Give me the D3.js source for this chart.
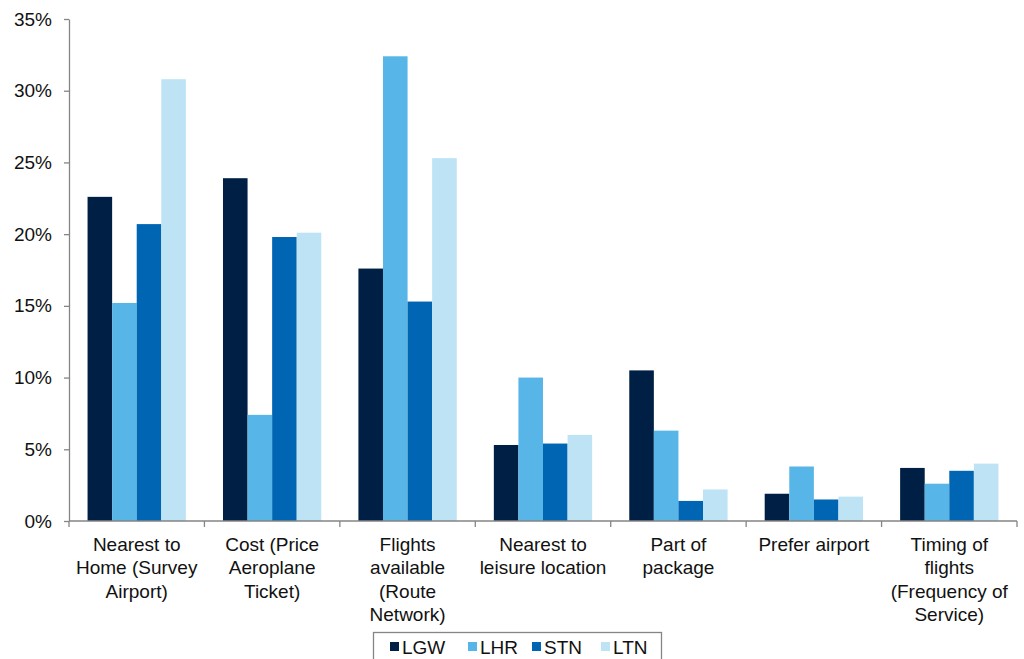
<!DOCTYPE html>
<html>
<head>
<meta charset="utf-8">
<script src="https://cdn.jsdelivr.net/npm/d3@7"></script>
<style>
  html, body { margin: 0; padding: 0; background: #fff; }
  svg { display: block; font-family: "Liberation Sans", Arial, sans-serif; }
</style>
</head>
<body>
<svg id="chart" width="1024" height="659"></svg>
<script>
// Reasons for choosing an airport, share of respondents by airport
const categories = [
  ["Nearest to", "Home (Survey", "Airport)"],
  ["Cost (Price", "Aeroplane", "Ticket)"],
  ["Flights", "available", "(Route", "Network)"],
  ["Nearest to", "leisure location"],
  ["Part of", "package"],
  ["Prefer airport"],
  ["Timing of", "flights", "(Frequency of", "Service)"]
];
const seriesNames = ["LGW", "LHR", "STN", "LTN"];
const lgw = [22.6, 23.9, 17.6, 5.3, 10.5, 1.9, 3.7];
const lhr = [15.2, 7.4, 32.4, 10.0, 6.3, 3.8, 2.6];
const stn = [20.7, 19.8, 15.3, 5.4, 1.4, 1.5, 3.5];
const ltn = [30.8, 20.1, 25.3, 6.0, 2.2, 1.7, 4.0];
const yTicks = [0, 5, 10, 15, 20, 25, 30, 35];

const seriesValues = [lgw, lhr, stn, ltn];
const colors = ["#001f44", "#57b6e7", "#0066b3", "#bde3f4"];

const svg = d3.select("#chart");
const plotLeft = 69, plotRight = 1017, plotTop = 19, plotBottom = 521;
const axisColor = "#858585";

const x0 = d3.scaleBand().domain(d3.range(categories.length)).range([plotLeft, plotRight]).padding(0);
const bw = x0.bandwidth();
const groupPad = bw * 0.137;
const x1 = d3.scaleBand().domain(seriesNames).range([groupPad, bw - groupPad]).padding(0);
const y = d3.scaleLinear().domain([0, 35]).range([plotBottom, plotTop]);

// bars
const groups = svg.append("g").selectAll("g")
  .data(categories.map((c, i) => i))
  .join("g")
  .attr("transform", i => `translate(${x0(i)},0)`);

groups.selectAll("rect")
  .data(i => seriesNames.map((s, k) => ({ s, k, v: seriesValues[k][i] })))
  .join("rect")
  .attr("x", d => x1(d.s))
  .attr("width", x1.bandwidth())
  .attr("y", d => y(d.v))
  .attr("height", d => y(0) - y(d.v))
  .attr("fill", d => colors[d.k]);

// y axis
const yAxis = svg.append("g")
  .attr("transform", `translate(${plotLeft},0)`)
  .call(d3.axisLeft(y).tickValues(yTicks).tickFormat(d => d + "%").tickSize(5).tickSizeOuter(0).tickPadding(12));
yAxis.select(".domain").attr("stroke", axisColor).attr("stroke-width", 1.3);
yAxis.selectAll(".tick line").attr("stroke", axisColor).attr("stroke-width", 1.3);
yAxis.selectAll(".tick text").attr("font-size", 19).attr("fill", "#111")
  .attr("font-family", "'Liberation Sans', Arial, sans-serif");

// x axis with ticks on category boundaries
const xAxisG = svg.append("g");
xAxisG.append("line")
  .attr("x1", plotLeft).attr("x2", plotRight)
  .attr("y1", plotBottom).attr("y2", plotBottom)
  .attr("stroke", axisColor).attr("stroke-width", 1.3);
const boundaries = d3.range(categories.length).map(i => x0(i)).concat([x0(categories.length - 1) + bw]);
xAxisG.selectAll("line.tk")
  .data(boundaries)
  .join("line")
  .attr("class", "tk")
  .attr("x1", d => d).attr("x2", d => d)
  .attr("y1", plotBottom).attr("y2", plotBottom + 6)
  .attr("stroke", axisColor).attr("stroke-width", 1.3);

// category labels
const labels = svg.append("g").selectAll("text")
  .data(categories)
  .join("text")
  .attr("x", (d, i) => x0(i) + bw / 2)
  .attr("y", 551)
  .attr("text-anchor", "middle")
  .attr("font-size", 19)
  .attr("fill", "#111");
labels.selectAll("tspan")
  .data(d => d)
  .join("tspan")
  .attr("x", function () { return this.parentNode.getAttribute("x"); })
  .attr("dy", (d, j) => j === 0 ? 0 : 23.3)
  .text(d => d);

// legend
const legend = svg.append("g");
legend.append("rect")
  .attr("x", 373.5).attr("y", 632.5)
  .attr("width", 288).attr("height", 40)
  .attr("fill", "#fff").attr("stroke", axisColor).attr("stroke-width", 1.3);
const legendX = [390, 468, 532, 601];
const items = legend.selectAll("g.item")
  .data(seriesNames)
  .join("g")
  .attr("class", "item")
  .attr("transform", (d, i) => `translate(${legendX[i]},0)`);
items.append("rect")
  .attr("x", 0).attr("y", 642)
  .attr("width", 9).attr("height", 9)
  .attr("fill", (d, i) => colors[i]);
items.append("text")
  .attr("x", 12).attr("y", 654)
  .attr("font-size", 19)
  .attr("fill", "#111")
  .text(d => d);
</script>
</body>
</html>
